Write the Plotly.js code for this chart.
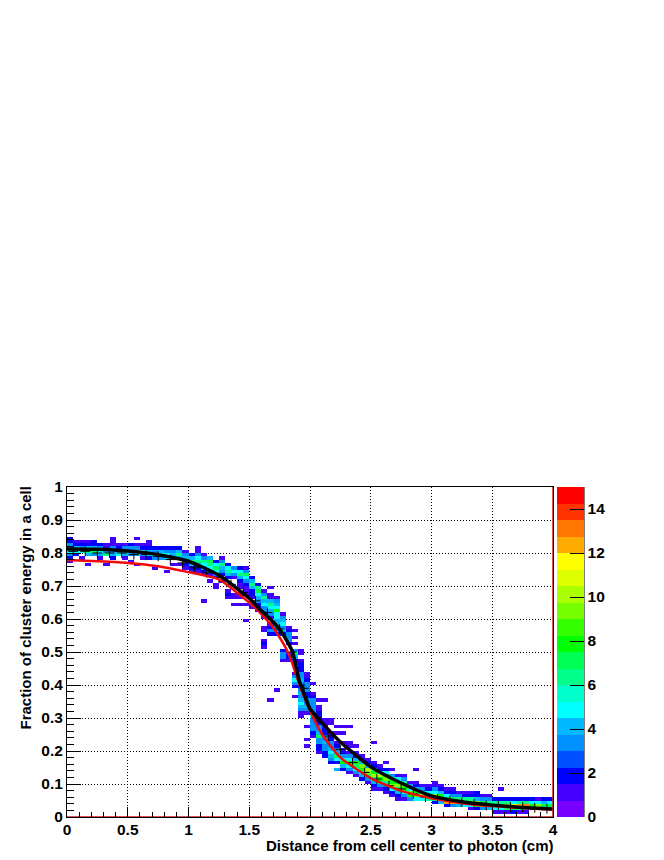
<!DOCTYPE html>
<html><head><meta charset="utf-8">
<script src="https://cdn.plot.ly/plotly-3.0.1.min.js"></script>
<style>html,body{margin:0;padding:0;background:#fff}#c{width:664px;height:860px}</style>
</head><body><div id="c"></div>
<script>
// Histogram columns: each row is one x-bin (0.05 cm wide): [first y-bin, counts going up] (y-bin = 0.01)
const histColumns = [
[77,[1,2,3,5,3,3,2,2]],[79,[2,5,4,2,1]],[78,[1,0,5,3,2,1]],[76,[1,0,0,4,6,4,2,1]],
[79,[3,7,4,2,2]],[78,[1,4,5,3,2]],[76,[1,0,0,6,3,1,1]],[78,[2,4,4,3,1,1,1]],
[79,[5,4,2,1]],[78,[1,4,6,3,1]],[77,[1,0,3,6,3,2]],[76,[1,0,0,4,5,3,1,0,1]],
[78,[1,3,5,2,1]],[78,[2,5,4,2,1,1]],[75,[1,0,0,3,5,3,2]],[78,[3,5,4,2]],
[74,[1,0,0,0,4,5,3,2]],[76,[1,0,5,4,3,2]],[76,[1,0,4,6,4,2]],[75,[1,2,4,4,3,1]],
[74,[1,2,4,6,4,2]],[74,[1,2,4,6,5,3,1,1]],[73,[1,2,4,5,6,3,1]],[73,[1,3,5,6,7,4]],
[72,[2,3,5,7,5,2]],[73,[2,3,4,6,3,1]],[72,[2,4,6,5,2]],[72,[1,3,5,3]],
[69,[1,1,2,4,6,5,2]],[69,[1,2,3,5,7,3,1]],[66,[1,2,2,4,6,4,2]],[62,[1,1,2,3,4,5,7,6,2]],
[60,[1,2,3,3,5,4,6,3,1]],[55,[2,3,2,1,0,1,3,4,5,6,4,1,1,0,1]],[55,[2,3,4,4,4,5,5,8,5,4,3,1]],[47,[1,3,3,2,0,0,0,0,2,4,3,5,4,3,1]],
[47,[1,2,1,0,0,2,3,3,3,2,1]],[39,[2,3,5,3,1,0,0,1,2,4,7,3,0,1,0,1,0,1]],[30,[1,1,3,4,5,4,3,4,3,2,3,4,3,3,2,2,2,1,0,1,1]],[31,[1,3,4,3,3,2,2,3,3,3,2,1,1]],
[24,[1,2,3,3,3,3,5,3,3,3,3,3,2,1]],[19,[1,2,2,3,3,7,4,3,3,2,2,2,2,1,1]],[18,[2,2,3,3,4,3,3,2,2,1,1,1]],[16,[2,3,4,5,4,3,3,2,2,1]],
[16,[2,5,7,4,3,2,1]],[14,[2,4,8,5,3,2,1]],[13,[1,3,5,8,5,3,1,0,1,1]],[12,[1,3,5,7,8,4,2,1,0,1]],
[11,[2,4,5,8,9,4,1,1]],[10,[1,3,7,9,10,4,2,1]],[8,[1,2,4,6,10,8,5,2,1]],[8,[1,3,6,8,10,5,2,1]],
[7,[1,2,3,6,9,8,5,2,0,1]],[6,[1,2,5,9,8,7,3,0,1]],[5,[1,2,4,7,9,8,5,1]],[5,[1,3,5,8,9,6,3,1]],
[5,[3,8,9,5,3,1]],[5,[5,9,8,4,2,1,0,0,0,1]],[5,[5,9,7,3,1]],[5,[6,9,5,2,1]],
[4,[2,6,10,5,3,1,1]],[4,[4,10,8,4,2,1]],[3,[2,12,8,5,2,1]],[3,[3,12,7,3,2,1]],
[3,[4,11,6,3,1]],[3,[5,10,6,2,1]],[2,[1,5,9,6,2,1]],[2,[2,7,9,4,2,2]],
[2,[3,9,7,3,1]],[2,[4,9,6,3,1]],[1,[1,5,9,6,2]],[1,[1,5,10,6,2]],
[1,[1,6,11,6,2]],[1,[2,7,11,5,2]],[1,[1,6,12,6,2]],[1,[1,5,13,6,2]],
[2,[6,8,5,2]],[2,[5,9,5,1]],[2,[6,7,4,2]],[2,[5,7,5,2]]
];
// Isolated cells off the main band
const strayCol   = [22,23,24,24,25,26,26,26,27,27,27,28,28,28,29,29,29,29,30,30,32,32,32,32,32,33,34,37,39,39,39,40,41,42,43,43,44,44,44,45,45,45,46,50,71];
const strayBin   = [65,71,69,70,71,66,67,68,64,66,67,64,66,67,59,64,67,68,63,64,51,52,53,56,57,35,38,36,27,23,21,40,35,35,28,29,27,25,14,27,25,22,27,22,8];
const strayCount = [ 1, 1, 1, 1, 1, 1, 2, 1, 1, 1, 1, 1, 1, 1, 1, 1, 1, 1, 1, 1, 1, 2, 1, 1, 1, 1, 1, 1, 1, 1, 1, 1, 1, 1, 1, 1, 1, 1, 4, 1, 1, 1, 1, 1, 1];

const profileX = [.05,.15,.25,.35,.45,.55,.65,.75,.85,.95,1.05,1.15,1.25,1.35,1.45,1.55,1.65,1.75,1.85,1.95,2.05,2.15,2.25,2.35,2.45,2.55,2.65,2.75,2.85,2.95,3.05,3.15,3.25,3.35,3.45,3.55,3.65,3.75,3.85,3.95];
const profileY = [.805,.805,.80,.80,.80,.795,.795,.79,.78,.77,.755,.74,.725,.705,.68,.655,.62,.57,.50,.39,.30,.245,.205,.165,.135,.115,.095,.085,.07,.06,.055,.05,.045,.04,.035,.035,.03,.03,.028,.025];

const blackX = [0,.25,.5,.75,1,1.25,1.5,1.6,1.7,1.767,1.857,1.91,1.96,2,2.1,2.25,2.5,2.75,3,3.25,3.5,3.75,4];
const blackY = [.812,.811,.806,.795,.775,.733,.663,.625,.59,.56,.50,.415,.365,.328,.285,.227,.152,.103,.064,.046,.036,.029,.024];
const redX = [0,.25,.5,.75,1,1.25,1.5,1.6,1.7,1.8,1.85,1.9,1.95,2,2.1,2.25,2.5,2.75,3,3.25,3.5,4];
const redY = [.779,.775,.77,.76,.742,.72,.65,.615,.573,.513,.47,.415,.365,.322,.25,.18,.118,.079,.057,.042,.033,.022];

const frameX = [0,4,4];
const frameY = [0,0,1];

const palette = ['#7700ff','#4400ff','#0000ff','#0050ff','#0090ff','#00b8ff','#00ffff','#00ffcc','#00ff88','#00ff55','#00ff00','#33ff00','#77ff00','#aaff00','#ddff00','#ffff00','#ffaa00','#ff7700','#ff3300','#ff0000'];
const colorTicks = [0,2,4,6,8,10,12,14];

const nx = 80, ny = 100;
const xc = Array.from({length:nx},(_,i)=>0.05*(i+0.5));
const yc = Array.from({length:ny},(_,j)=>0.01*(j+0.5));
const z = yc.map(()=>xc.map(()=>null));
histColumns.forEach(([s,vals],i)=>vals.forEach((v,k)=>{ if(v>0) z[s+k][i]=v; }));
strayCol.forEach((c,k)=>{ z[strayBin[k]][c]=strayCount[k]; });

const cs=[]; palette.forEach((c,i)=>{ cs.push([i/palette.length,c]); cs.push([(i+1)/palette.length,c]); });

const W=486,H=330,L=67,B=817;
const font={family:'Liberation Sans, Arial, sans-serif',size:15.5,color:'#000',weight:700};
const tf={family:font.family,size:15,color:'#000',weight:700};

const traces=[
 {type:'heatmap',x:xc,y:yc,z:z,zmin:0,zmax:15,colorscale:cs,hoverongaps:false,
  colorbar:{x:(557-L)/W,xanchor:'left',xpad:0,ypad:0,y:0,yanchor:'bottom',len:1,lenmode:'fraction',thickness:27,thicknessmode:'pixels',
   outlinewidth:0,tickmode:'array',tickvals:colorTicks,ticktext:colorTicks.map(String),ticks:'inside',ticklen:14,tickwidth:1,tickcolor:'#000',tickfont:font}},
 {type:'scatter',mode:'markers',x:profileX,y:profileY,marker:{symbol:'cross-thin',size:7,line:{width:1,color:'#000'},color:'#000'}},
 {type:'scatter',mode:'lines',x:redX,y:redY,line:{color:'#f00a0a',width:2.5,shape:'spline',smoothing:0.5}},
 {type:'scatter',mode:'lines',x:blackX,y:blackY,line:{color:'#000',width:3.5,shape:'spline',smoothing:0.5}},
 {type:'scatter',mode:'lines',x:frameX,y:frameY,cliponaxis:false,line:{color:'#d81818',width:1.5}}
];
const layout={
 width:664,height:860,showlegend:false,paper_bgcolor:'#fff',plot_bgcolor:'#fff',
 margin:{l:L,r:664-553,t:487,b:860-817,pad:0},
 xaxis:{range:[0,4],tick0:0,dtick:.5,ticks:'inside',ticklen:10,tickwidth:1,tickcolor:'#000',tickfont:font,ticklabelstandoff:-2,
  showline:true,mirror:true,linecolor:'#000',linewidth:1,zeroline:false,showgrid:true,gridcolor:'#000',gridwidth:1,griddash:'1px,2px',layer:'above traces',
  minor:{dtick:.1,ticks:'inside',ticklen:5,tickwidth:1,tickcolor:'#000',showgrid:false}},
 yaxis:{range:[0,1],tick0:0,dtick:.1,ticks:'inside',ticklen:14,tickwidth:1,tickcolor:'#000',tickfont:font,
  showline:true,mirror:true,linecolor:'#000',linewidth:1,zeroline:false,showgrid:true,gridcolor:'#000',gridwidth:1,griddash:'1px,2px',layer:'above traces',
  minor:{dtick:.02,ticks:'inside',ticklen:7,tickwidth:1,tickcolor:'#000',showgrid:false}},
 shapes:[{type:'line',xref:'paper',yref:'paper',x0:(584-L)/W,x1:(584-L)/W,y0:0,y1:1,line:{color:'#000',width:1}}],
 annotations:[
  {text:'Distance from cell center to photon (cm)',xref:'paper',yref:'paper',x:(556-L)/W,y:(B-845)/H,xanchor:'right',yanchor:'middle',showarrow:false,font:tf},
  {text:'Fraction of cluster energy in a cell',xref:'paper',yref:'paper',x:(25-L)/W,y:(B-608.5)/H,xanchor:'center',yanchor:'middle',textangle:-90,showarrow:false,font:tf}
 ]
};
Plotly.newPlot('c',traces,layout,{displayModeBar:false,staticPlot:true});
</script></body></html>
